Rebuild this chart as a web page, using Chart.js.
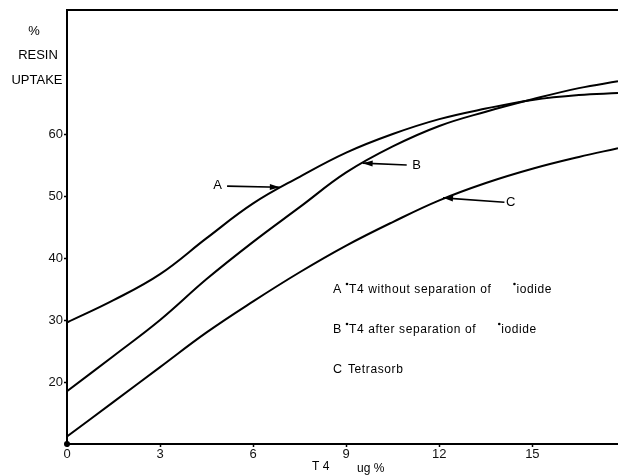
<!DOCTYPE html>
<html>
<head>
<meta charset="utf-8">
<script src="https://cdn.jsdelivr.net/npm/chart.js@4.4.0/dist/chart.umd.min.js"></script>
<style>
  html, body { margin: 0; padding: 0; background: #fff; }
  #wrap { width: 618px; height: 475px; position: relative; }
</style>
</head>
<body>
<div id="wrap"><canvas id="chart"></canvas></div>
<script>
// T4 concentration (ug %) sampled along the curves
const xValues = [0, 1.5, 3, 4.5, 6, 7.5, 9, 10.5, 12, 13.5, 15, 16.5, 17.76];
// A: *T4 without separation of *iodide
const curveA = [29.6, 33.2, 37.4, 43.2, 48.8, 53.1, 57.0, 60.0, 62.4, 64.1, 65.5, 66.3, 66.6];
// B: *T4 after separation of *iodide
const curveB = [18.5, 24.2, 30.0, 36.6, 42.6, 48.2, 53.8, 58.0, 61.3, 63.6, 65.6, 67.4, 68.5];
// C: Tetrasorb
const curveC = [11.2, 16.8, 22.4, 28.0, 33.0, 37.7, 42.0, 45.8, 49.3, 52.1, 54.4, 56.3, 57.7];

const xTicks = [0, 3, 6, 9, 12, 15];
const yTicks = [20, 30, 40, 50, 60];

const legendLines = [
  { key: "A", parts: ["T4 without separation of", "iodide"] },
  { key: "B", parts: ["T4 after separation of", "iodide"] },
  { key: "C", parts: ["Tetrasorb"] },
];

const FONT = "'Liberation Sans', Arial, sans-serif";

function toPoints(ys) {
  return xValues.map((x, i) => ({ x: x, y: ys[i] }));
}

function lineSet(label, ys) {
  return {
    label: label,
    data: toPoints(ys),
    borderColor: "#000",
    borderWidth: 2,
    pointRadius: 0,
    fill: false,
    tension: 0.4,
  };
}

// arrows pointing at each curve, label on the left or right
const arrows = [
  { text: "A", tip: [6.86, 51.4], tail: [5.16, 51.6], labelAt: [4.85, 51.7] },
  { text: "B", tip: [9.53, 55.3], tail: [10.95, 55.0], labelAt: [11.27, 55.0] },
  { text: "C", tip: [12.12, 49.7], tail: [14.1, 49.0], labelAt: [14.3, 48.9] },
];

const decorPlugin = {
  id: "decor",
  afterDatasetsDraw(chart) {
    const ctx = chart.ctx;
    const xs = chart.scales.x;
    const ys = chart.scales.y;
    const area = chart.chartArea;
    ctx.save();

    // top frame line
    ctx.strokeStyle = "#000";
    ctx.lineWidth = 2;
    ctx.beginPath();
    ctx.moveTo(area.left, area.top);
    ctx.lineTo(area.right, area.top);
    ctx.stroke();

    // origin dot
    ctx.fillStyle = "#000";
    ctx.beginPath();
    ctx.arc(xs.getPixelForValue(0), ys.getPixelForValue(10), 3, 0, Math.PI * 2);
    ctx.fill();

    // y axis title
    ctx.font = "13px " + FONT;
    ctx.textAlign = "center";
    ctx.textBaseline = "middle";
    ctx.fillText("%", 34, 31);
    ctx.fillText("RESIN", 38, 55);
    ctx.fillText("UPTAKE", 37, 80);

    // x axis title
    ctx.font = "12px " + FONT;
    ctx.textAlign = "left";
    ctx.fillText("T 4", 312, 467);
    ctx.fillText("ug %", 357, 469);

    // arrows
    ctx.lineWidth = 1.6;
    arrows.forEach(a => {
      const tx = xs.getPixelForValue(a.tip[0]);
      const ty = ys.getPixelForValue(a.tip[1]);
      const sx = xs.getPixelForValue(a.tail[0]);
      const sy = ys.getPixelForValue(a.tail[1]);
      ctx.beginPath();
      ctx.moveTo(sx, sy);
      ctx.lineTo(tx, ty);
      ctx.stroke();
      const ang = Math.atan2(ty - sy, tx - sx);
      const len = 10, w = 3;
      ctx.beginPath();
      ctx.moveTo(tx, ty);
      ctx.lineTo(tx - len * Math.cos(ang) + w * Math.sin(ang), ty - len * Math.sin(ang) - w * Math.cos(ang));
      ctx.lineTo(tx - len * Math.cos(ang) - w * Math.sin(ang), ty - len * Math.sin(ang) + w * Math.cos(ang));
      ctx.closePath();
      ctx.fill();
      ctx.font = "13px " + FONT;
      ctx.textAlign = "center";
      ctx.textBaseline = "middle";
      ctx.fillText(a.text, xs.getPixelForValue(a.labelAt[0]), ys.getPixelForValue(a.labelAt[1]));
    });

    // legend block
    const rowY = [290, 330, 370];
    ctx.textBaseline = "middle";
    legendLines.forEach((row, i) => {
      let x = 333;
      const y = rowY[i];
      ctx.letterSpacing = "0px";
      ctx.font = "12.5px " + FONT;
      ctx.textAlign = "left";
      ctx.fillText(row.key, x, y);
      x += 13;
      ctx.font = "12px " + FONT;
      ctx.letterSpacing = "0.6px";
      if (row.parts.length === 1) {
        ctx.fillText(row.parts[0], x + 2, y);
        return;
      }
      row.parts.forEach(p => {
        ctx.beginPath();
        ctx.arc(x + 1, y - 6, 1.3, 0, Math.PI * 2);
        ctx.fill();
        x += 3;
        ctx.fillText(p, x, y);
        x += ctx.measureText(p).width + 22;
      });
    });

    ctx.restore();
  },
};

new Chart(document.getElementById("chart"), {
  type: "line",
  data: {
    datasets: [lineSet("A", curveA), lineSet("B", curveB), lineSet("C", curveC)],
  },
  options: {
    responsive: true,
    maintainAspectRatio: false,
    animation: false,
    layout: { padding: { top: 10, right: 0, left: 0, bottom: 0 } },
    plugins: { legend: { display: false }, tooltip: { enabled: false } },
    scales: {
      x: {
        type: "linear",
        min: 0,
        max: 17.76,
        afterBuildTicks: s => { s.ticks = xTicks.map(v => ({ value: v })); },
        afterFit: s => { s.height = 31; },
        border: { display: true, color: "#000", width: 2 },
        grid: { display: true, drawOnChartArea: false, tickLength: 3, color: "#000", tickWidth: 1.5 },
        ticks: { color: "#111", font: { size: 13, family: FONT }, padding: 0, maxRotation: 0 },
      },
      y: {
        type: "linear",
        min: 10,
        max: 80,
        afterBuildTicks: s => { s.ticks = yTicks.map(v => ({ value: v })); },
        afterFit: s => { s.width = 67; },
        border: { display: true, color: "#000", width: 2 },
        grid: { display: true, drawOnChartArea: false, tickLength: 3, color: "#000", tickWidth: 1.5 },
        ticks: { color: "#111", font: { size: 13, family: FONT }, padding: 1 },
      },
    },
  },
  plugins: [decorPlugin],
});
</script>
</body>
</html>
